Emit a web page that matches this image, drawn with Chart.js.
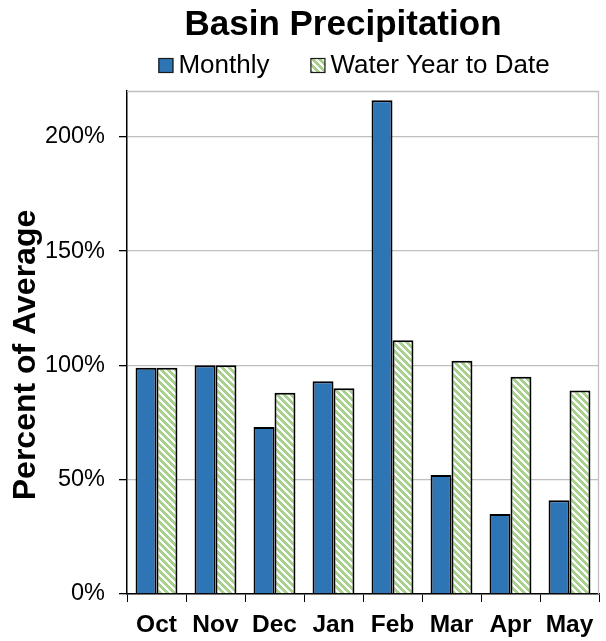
<!DOCTYPE html>
<html>
<head>
<meta charset="utf-8">
<script src="https://cdn.jsdelivr.net/npm/chart.js@4/dist/chart.umd.min.js"></script>
<style>
  html, body { margin: 0; padding: 0; background: #fff; }
  #wrap { width: 606px; height: 641px; }
</style>
</head>
<body>
<div id="wrap"><canvas id="c" width="606" height="641"></canvas></div>
<script>
// Data
const months = ['Oct', 'Nov', 'Dec', 'Jan', 'Feb', 'Mar', 'Apr', 'May'];
const monthly = [99, 100, 73, 93, 216, 52, 35, 41];
const waterYearToDate = [99, 100, 88, 90, 111, 102, 95, 89];
const yTicks = [0, 50, 100, 150, 200];
const yMax = 220;
const seriesNames = ['Monthly', 'Water Year to Date'];
const chartTitle = 'Basin Precipitation';
const yTitle = 'Percent of Average';

const FONT = '"Liberation Sans", Arial, sans-serif';
const BLUE = '#2e75b6';
const GREEN = '#a9d18e';

const canvas = document.getElementById('c');
const ctx = canvas.getContext('2d');

// Wide downward-diagonal hatch: light green stripes on white
function stripePattern() {
  const size = 7;
  const tile = document.createElement('canvas');
  tile.width = size; tile.height = size;
  const g = tile.getContext('2d');
  g.fillStyle = '#fff';
  g.fillRect(0, 0, size, size);
  g.fillStyle = GREEN;
  for (let y = 0; y < size; y++) {
    for (let x = 0; x < size; x++) {
      if ((((x - y) % size) + size) % size < 4) g.fillRect(x, y, 1, 1);
    }
  }
  return ctx.createPattern(tile, 'repeat');
}
const hatch = stripePattern();

// Gray frame on the top and right of the plot area
const framePlugin = {
  id: 'frame',
  beforeDatasetsDraw(chart) {
    const { ctx, chartArea: a } = chart;
    ctx.save();
    ctx.strokeStyle = '#bfbfbf';
    ctx.lineWidth = 1.3;
    ctx.beginPath();
    ctx.moveTo(a.left, a.top + 0.5);
    ctx.lineTo(a.right - 0.5, a.top + 0.5);
    ctx.lineTo(a.right - 0.5, a.bottom);
    ctx.stroke();
    ctx.restore();
  }
};

// Title, legend and vertical axis title
const textPlugin = {
  id: 'texts',
  afterDraw(chart) {
    const c = chart.ctx;
    c.save();
    c.fillStyle = '#000';
    c.textBaseline = 'alphabetic';
    c.textAlign = 'center';
    c.font = 'bold 35px ' + FONT;
    c.fillText(chartTitle, 343, 35);

    c.font = '26px ' + FONT;
    const box = 15, gap = 5, spacing = 41;
    const items = chart.data.datasets.map(ds => ({
      label: ds.label,
      fill: ds.backgroundColor,
      w: box + gap + c.measureText(ds.label).width
    }));
    const total = items.reduce((s, it) => s + it.w, 0) + spacing * (items.length - 1);
    let x = 354 - total / 2;
    items.forEach(it => {
      c.fillStyle = it.fill;
      c.fillRect(x, 58, box, box);
      c.strokeStyle = '#1a1a1a';
      c.lineWidth = 1.2;
      c.strokeRect(x + 0.5, 58.5, box - 1, box - 1);
      c.fillStyle = '#000';
      c.textAlign = 'left';
      c.fillText(it.label, x + box + gap, 73);
      x += it.w + spacing;
    });

    c.translate(26, 355);
    c.rotate(-Math.PI / 2);
    c.textAlign = 'center';
    c.textBaseline = 'middle';
    c.font = 'bold 32px ' + FONT;
    c.fillText(yTitle, 0, 0);
    c.restore();
  }
};

new Chart(canvas, {
  type: 'bar',
  data: {
    labels: months,
    datasets: [
      {
        label: seriesNames[0],
        data: monthly,
        backgroundColor: BLUE,
        borderColor: '#000',
        borderWidth: 2,
        categoryPercentage: 0.71,
        barPercentage: 1.0
      },
      {
        label: seriesNames[1],
        data: waterYearToDate,
        backgroundColor: hatch,
        borderColor: '#000',
        borderWidth: 2,
        categoryPercentage: 0.71,
        barPercentage: 1.0
      }
    ]
  },
  options: {
    responsive: false,
    animation: false,
    devicePixelRatio: 1,
    layout: { padding: { top: 91, right: 7, left: 0, bottom: 0 } },
    plugins: {
      legend: { display: false },
      title: { display: false },
      tooltip: { enabled: false }
    },
    scales: {
      x: {
        grid: { offset: true, drawOnChartArea: false, tickColor: '#000', tickLength: 8, lineWidth: 1 },
        border: { color: '#000', width: 1.5 },
        ticks: {
          font: { family: FONT, size: 24.5, weight: 'bold' },
          color: '#000',
          padding: 9,
          maxRotation: 0,
          autoSkip: false
        },
        afterFit(scale) { scale.height = 47; }
      },
      y: {
        min: 0,
        max: yMax,
        afterBuildTicks(scale) { scale.ticks = yTicks.map(v => ({ value: v })); },
        grid: { color: '#bfbfbf', tickColor: '#000', tickLength: 8, lineWidth: 1.3 },
        border: { color: '#000', width: 1.5 },
        ticks: {
          font: { family: FONT, size: 23.5 },
          color: '#000',
          padding: 14,
          callback: v => v + '%'
        },
        afterFit(scale) { scale.width = 127; }
      }
    }
  },
  plugins: [framePlugin, textPlugin]
});
</script>
</body>
</html>
